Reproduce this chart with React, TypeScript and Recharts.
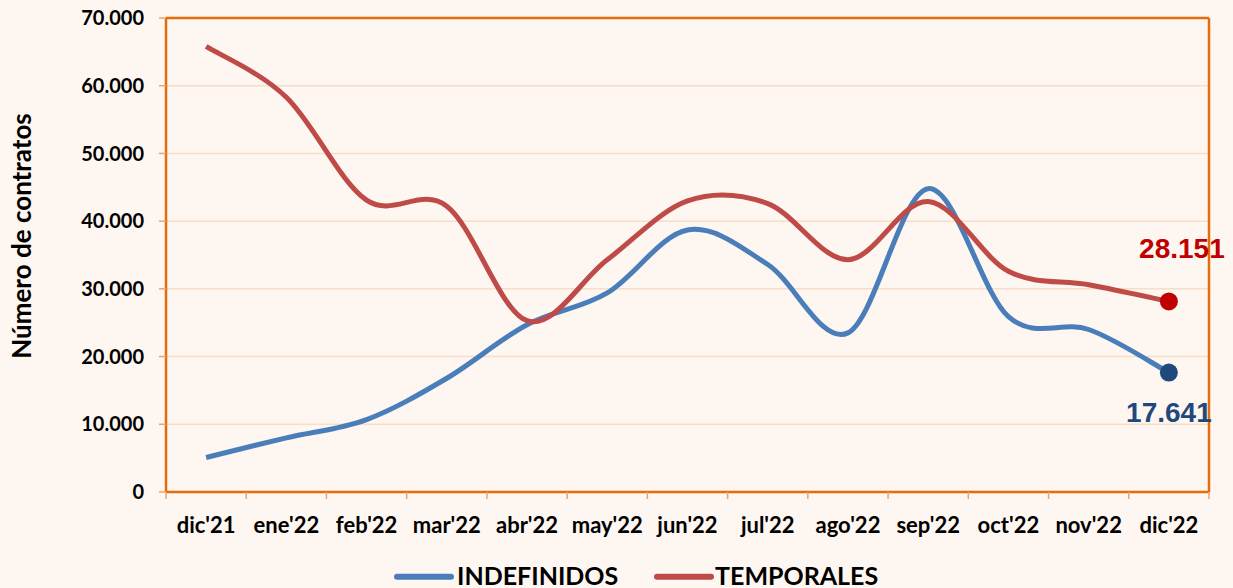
import React from 'react';
import { LineChart, Line, XAxis, YAxis, CartesianGrid, LabelList, Label } from 'recharts';

// months on the x axis
const categories = ["dic'21", "ene'22", "feb'22", "mar'22", "abr'22", "may'22", "jun'22", "jul'22", "ago'22", "sep'22", "oct'22", "nov'22", "dic'22"];
const indefinidos = [5100, 8000, 10700, 16800, 24700, 29400, 38700, 33600, 23500, 44800, 25900, 24000, 17641];
const temporales = [65800, 58300, 43100, 42200, 25300, 34300, 43000, 42600, 34300, 42900, 32600, 30600, 28151];
const seriesNames = ['INDEFINIDOS', 'TEMPORALES'];
const yTicks = [0, 10000, 20000, 30000, 40000, 50000, 60000, 70000];

const data = categories.map((mes, i) => ({
    mes,
    indefinidos: indefinidos[i],
    temporales: temporales[i]
}));

const BG = '#FEF6F0';
const ORANGE = '#E46C0A';
const GRID = '#F9DDC6';
const TICK = '#F0A268';
const BLUE = '#4A7EBB';
const RED = '#BE4B48';
const DOT_BLUE = '#1F497D';
const DOT_RED = '#C00000';
const FONT = 'Lato, "Open Sans", sans-serif';
const last = categories.length - 1;

const fmt = (v: number) => String(v).replace(/\B(?=(\d{3})+(?!\d))/g, '.');

// excel-like smoothed line (catmull-rom as bezier)
const excelSmooth = (context: any) => {
    let pts: number[][] = [];
    return {
        areaStart() {},
        areaEnd() {},
        lineStart() {
            pts = [];
        },
        point(x: number, y: number) {
            pts.push([+x, +y]);
        },
        lineEnd() {
            const n = pts.length;
            if (!n) return;
            context.moveTo(pts[0][0], pts[0][1]);
            for (let i = 0; i < n - 1; i++) {
                const p0 = pts[Math.max(i - 1, 0)];
                const p1 = pts[i];
                const p2 = pts[i + 1];
                const p3 = pts[Math.min(i + 2, n - 1)];
                context.bezierCurveTo(
                    p1[0] + (p2[0] - p0[0]) / 6,
                    p1[1] + (p2[1] - p0[1]) / 6,
                    p2[0] - (p3[0] - p1[0]) / 6,
                    p2[1] - (p3[1] - p1[1]) / 6,
                    p2[0],
                    p2[1]
                );
            }
        }
    };
};

const endDot = (color: string) => (props: any) => {
    const { cx, cy, index } = props;
    if (index !== last) return <g key={`d-${index}`} />;
    return <circle key={`d-${index}`} cx={cx} cy={cy} r={9} fill={color} />;
};

const endLabel = (color: string, dx: number, dy: number) => (props: any) => {
    const { x, y, index, value } = props;
    if (index !== last) return null;
    return (
        <text
            x={x + dx}
            y={y + dy}
            textAnchor="middle"
            fill={color}
            fontFamily='"Liberation Sans", Arial, sans-serif'
            fontWeight={700}
            fontSize={28}
        >
            {fmt(value)}
        </text>
    );
};

// month label + tick marks on the band edges
const MonthTick = (props: any) => {
    const { x, y, payload, index } = props;
    const half = payload.offset || 0;
    return (
        <g>
            <line x1={x - half} x2={x - half} y1={y} y2={y + 7} stroke={TICK} strokeWidth={1.5} />
            {index === last && <line x1={x + half} x2={x + half} y1={y} y2={y + 7} stroke={TICK} strokeWidth={1.5} />}
            <text x={x} y={y + 25} dy="0.71em" textAnchor="middle" fontFamily={FONT} fontWeight={700} fontSize={22} fill="#000">
                {payload.value}
            </text>
        </g>
    );
};

const Legenda = () => (
    <svg width={1233} height={40} style={{ position: 'absolute', left: 0, top: 550 }}>
        <line x1={397} x2={451} y1={26.7} y2={26.7} stroke={BLUE} strokeWidth={6} strokeLinecap="round" />
        <text x={457} y={35} fontFamily={FONT} fontWeight={700} fontSize={25} fill="#000">
            {seriesNames[0]}
        </text>
        <line x1={657} x2={711} y1={26.7} y2={26.7} stroke={RED} strokeWidth={6} strokeLinecap="round" />
        <text x={715} y={35} fontFamily={FONT} fontWeight={700} fontSize={25} fill="#000">
            {seriesNames[1]}
        </text>
    </svg>
);

export default function App() {
    return (
        <div style={{ position: 'absolute', left: 0, top: 0, width: 1233, height: 588, background: BG }}>
            <LineChart width={1233} height={588} data={data} margin={{ top: 17, right: 23, bottom: 66, left: 0 }}>
                <CartesianGrid vertical={false} stroke={GRID} strokeWidth={1.5} />
                <XAxis
                    dataKey="mes"
                    scale="band"
                    height={30}
                    interval={0}
                    tickSize={0}
                    tickMargin={0}
                    axisLine={{ stroke: ORANGE, strokeWidth: 2.5 }}
                    tickLine={false}
                    tick={<MonthTick />}
                />
                <XAxis
                    xAxisId="top"
                    orientation="top"
                    dataKey="mes"
                    scale="band"
                    height={1}
                    tick={false}
                    tickLine={false}
                    axisLine={{ stroke: ORANGE, strokeWidth: 2.5 }}
                />
                <YAxis
                    width={166}
                    domain={[0, 70000]}
                    ticks={yTicks}
                    interval={0}
                    tickFormatter={fmt}
                    tickSize={7}
                    tickMargin={15}
                    axisLine={{ stroke: ORANGE, strokeWidth: 2.5 }}
                    tickLine={{ stroke: TICK, strokeWidth: 1.5 }}
                    tick={{ fontFamily: FONT, fontWeight: 700, fontSize: 20, fill: '#000' }}
                >
                    <Label
                        content={() => (
                            <text
                                transform="translate(31,236) rotate(-90)"
                                textAnchor="middle"
                                fontFamily={FONT}
                                fontWeight={700}
                                fontSize={26}
                                fill="#000"
                            >
                                Número de contratos
                            </text>
                        )}
                    />
                </YAxis>
                <YAxis
                    yAxisId="right"
                    orientation="right"
                    width={1}
                    domain={[0, 70000]}
                    allowDataOverflow
                    tick={false}
                    tickLine={false}
                    axisLine={{ stroke: ORANGE, strokeWidth: 2.5 }}
                />
                <Line
                    dataKey="indefinidos"
                    name={seriesNames[0]}
                    type={excelSmooth as any}
                    stroke={BLUE}
                    strokeWidth={5}
                    dot={endDot(DOT_BLUE)}
                    activeDot={false}
                    isAnimationActive={false}
                >
                    <LabelList dataKey="indefinidos" content={endLabel(DOT_BLUE, 0, 49)} />
                </Line>
                <Line
                    dataKey="temporales"
                    name={seriesNames[1]}
                    type={excelSmooth as any}
                    stroke={RED}
                    strokeWidth={5}
                    dot={endDot(DOT_RED)}
                    activeDot={false}
                    isAnimationActive={false}
                >
                    <LabelList dataKey="temporales" content={endLabel(DOT_RED, 13, -43)} />
                </Line>
            </LineChart>
            <Legenda />
        </div>
    );
}
